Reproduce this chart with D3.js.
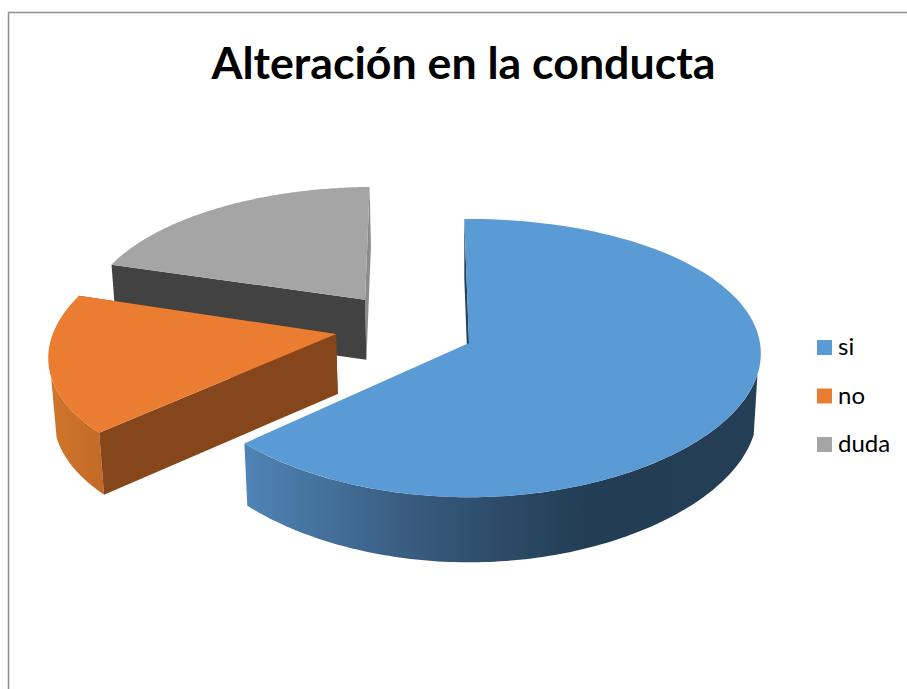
<!DOCTYPE html>
<html>
<head>
<meta charset="utf-8">
<script src="https://cdn.jsdelivr.net/npm/d3@7"></script>
<style>
html,body{margin:0;padding:0;background:#fff;}
svg{display:block;}
</style>
</head>
<body>
<svg id="chart" width="907" height="689"></svg>
<script>
const titleText = "Alteración en la conducta";
const categories = ["si", "no", "duda"];
const values = [19, 5, 6];
const topColors = ["#5b9bd5", "#ea7d31", "#a5a5a5"];

// layout of the perspective view
const W = 907, H = 689;
const cx = 469, cy = 343, rx = 291, ry = 136.6, persp = 0.1013;
const depth = 60, shrink = 0.987;
const explode = {si: [0, 0], no: [-0.46, 0.066], duda: [-0.369, 0.327]};
// per-slice rim correction: x scale, y scale, x narrowing towards the back, front bulge
const rimShape = {si: [1, 1, -0.026, 0.013], no: [0.98, 1, 0.03, 0], duda: [0.978, 0.965, 0, 0]};
const rotation = -1 * Math.PI / 180;
// rim angles between which the outer wall faces the viewer
const wallFrom = 103 * Math.PI / 180, wallTo = 252 * Math.PI / 180;

const svg = d3.select("#chart");
const defs = svg.append("defs");

function grad(id, stops) {
  const g = defs.append("linearGradient").attr("id", id)
    .attr("gradientUnits", "userSpaceOnUse")
    .attr("x1", stops[0][0]).attr("x2", stops[stops.length - 1][0])
    .attr("y1", 0).attr("y2", 0);
  const x0 = stops[0][0], x1 = stops[stops.length - 1][0];
  stops.forEach(s => g.append("stop")
    .attr("offset", (s[0] - x0) / (x1 - x0)).attr("stop-color", s[1]));
}
grad("wallsi", [[245, "#4f84b6"], [420, "#37597c"], [590, "#223c53"], [760, "#243f56"]]);
grad("wallno", [[47, "#d0752b"], [104, "#c26a27"]]);
grad("wallduda", [[100, "#707070"], [370, "#707070"]]);

const sideColors = {
  si: ["#21405a", "#21405a"],
  no: ["#86461c", "#86461c"],
  duda: ["#8c8c8c", "#424242"]
};

const pie = d3.pie().sort(null).value(d => d.value)
  .startAngle(rotation).endAngle(rotation + 2 * Math.PI);
const slices = pie(categories.map((c, i) => ({name: c, value: values[i], color: topColors[i]})));

const line = d3.line().x(p => p[0]).y(p => p[1]);

function proj(wx, wy, low) {
  const w = 1 + persp * wy;
  let x = cx + rx * wx / w, y = cy - ry * wy / w;
  if (low) {
    x = cx + (x - cx) * shrink;
    y = y + depth * (1 + (wy < 0 ? 0.083 * wy * wy : 0));
  }
  return [x, y];
}
const rimPoint = (s, a, low) => {
  const e = explode[s.data.name], q = rimShape[s.data.name];
  const c = Math.cos(a);
  const bulge = c < 0 ? 1 + q[3] * c * c * c * c : 1;
  return proj(e[0] + Math.sin(a) * q[0] * (1 - q[2] * c), e[1] + c * q[1] * bulge, low);
};
const apexPoint = (s, low) => {
  const e = explode[s.data.name];
  return proj(e[0], e[1], low);
};
const angles = (a0, a1) => d3.range(0, 121).map(i => a0 + (a1 - a0) * i / 120);

const g = svg.append("g");

// painter's order: farthest slice first
slices.slice().reverse().forEach(s => {
  const name = s.data.name;
  const cols = sideColors[name];
  const group = g.append("g").attr("class", "slice " + name);

  // outer wall
  const a0 = Math.max(s.startAngle, wallFrom), a1 = Math.min(s.endAngle, wallTo);
  if (a1 > a0) {
    const as = angles(a0, a1);
    const up = as.map(a => rimPoint(s, a, false));
    const lo = as.map(a => rimPoint(s, a, true)).reverse();
    group.append("path").attr("d", line(up.concat(lo)) + "Z").attr("fill", `url(#wall${name})`);
  }

  // radial cut faces
  [[s.endAngle, cols[0]], [s.startAngle, cols[1]]].forEach(([a, col]) => {
    if (name === "si" && a === s.endAngle) return;
    group.append("path")
      .attr("d", line([apexPoint(s, false), rimPoint(s, a, false), rimPoint(s, a, true), apexPoint(s, true)]) + "Z")
      .attr("fill", col);
  });

  // top face
  const rim = angles(s.startAngle, s.endAngle).map(a => rimPoint(s, a, false));
  group.append("path")
    .attr("d", line([apexPoint(s, false)].concat(rim)) + "Z")
    .attr("fill", s.data.color);
});

// frame
svg.append("path").attr("d", `M8.5,${H}V12.5H${W}`)
  .attr("fill", "none").attr("stroke", "#8e8e8e").attr("stroke-width", 1.5);

// title
svg.append("text").attr("x", 463.5).attr("y", 79)
  .attr("text-anchor", "middle")
  .attr("font-family", "Lato, 'Open Sans', sans-serif")
  .attr("font-weight", 700).attr("font-size", 44.7).attr("fill", "#000")
  .text(titleText);

// legend
const legendY = d3.scalePoint().domain(categories).range([340, 437]);
const legend = svg.append("g").selectAll("g").data(categories).join("g")
  .attr("transform", d => `translate(817,${legendY(d)})`);
legend.append("rect").attr("width", 15).attr("height", 15)
  .attr("fill", (d, i) => topColors[i]);
legend.append("text").attr("x", 21).attr("y", 15)
  .attr("font-family", "Lato, 'Open Sans', sans-serif")
  .attr("font-size", 24).attr("fill", "#000")
  .text(d => d);
</script>
</body>
</html>
